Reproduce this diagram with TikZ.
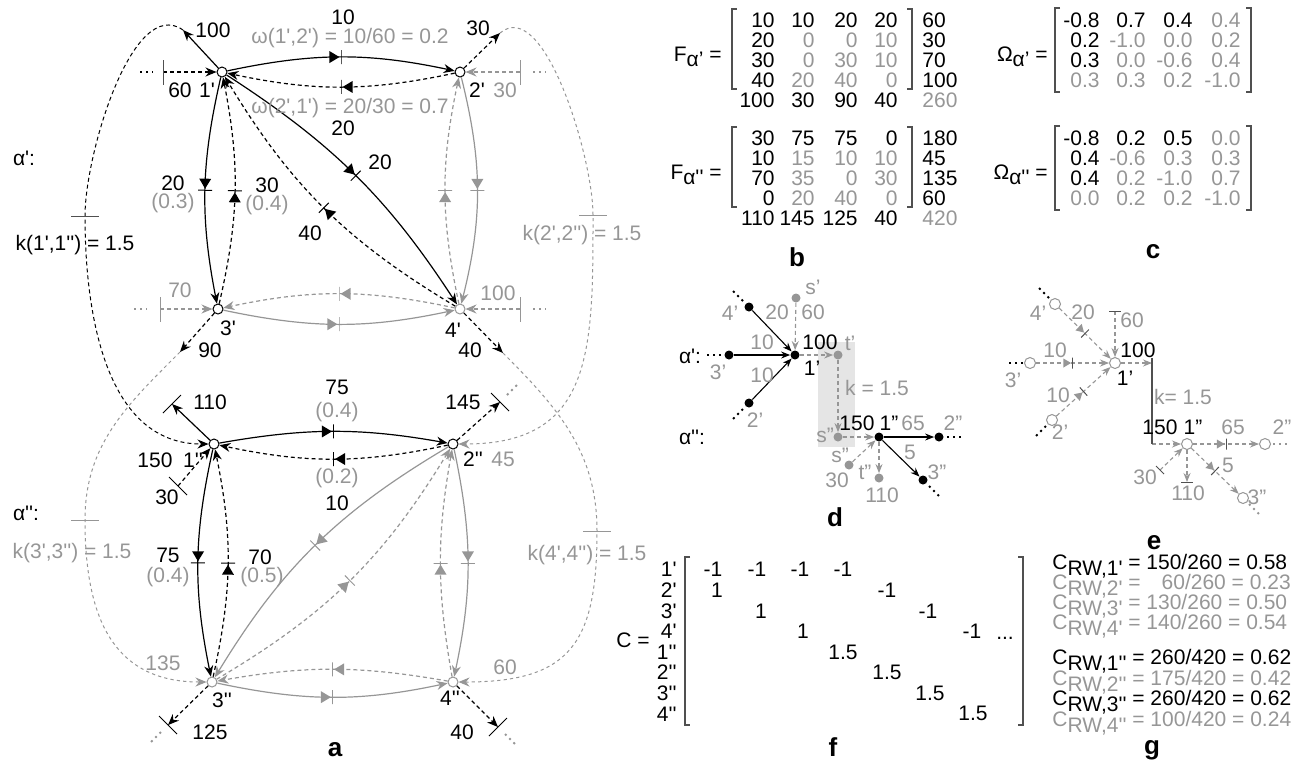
\documentclass[tikz,border=0pt]{standalone}
\usepackage{fontspec}
\setmainfont{Liberation Sans}[Ligatures=TeXOff]
\usetikzlibrary{arrows.meta,shapes.geometric}
\definecolor{lgray}{RGB}{150,150,150}
\definecolor{dgray}{RGB}{80,80,80}
\newcommand{\crw}[1]{C\raisebox{-3pt}{RW,#1}}
\tikzset{
  every node/.style={inner sep=1pt,font=\fontsize{10.5}{12}\selectfont},
  vtx/.style={circle,draw,fill=white,inner sep=0pt,minimum size=5pt,line width=0.5pt},
  gvtx/.style={vtx,draw=lgray},
  ovtx/.style={vtx,draw=lgray,minimum size=5.5pt},
  bdot/.style={circle,fill,inner sep=0pt,minimum size=4.5pt},
  gdot/.style={bdot,fill=lgray},
  fl/.style={line width=0.6pt,-{Stealth[length=5.5pt,width=4.5pt]}},
  sfl/.style={line width=0.55pt,-{Stealth[length=4.5pt,width=3.5pt]}},
  dsh/.style={dash pattern=on 2pt off 1.5pt},
  gdsh/.style={dash pattern=on 1.6pt off 1.6pt,line width=0.5pt},
  mh/.style={pos=0.5,sloped,allow upside down,isosceles triangle,isosceles triangle stretches,
    fill,draw=none,inner sep=0pt,minimum width=6pt,minimum height=5pt,anchor=apex},
  smh/.style={mh,minimum width=4.5pt,minimum height=3.8pt},
  mt/.style={pos=0.5,sloped,allow upside down,draw,solid,line width=0.5pt,rectangle,
    inner sep=0pt,minimum width=0pt,minimum height=7pt},
  smt/.style={mt,minimum height=5.5pt},
  etc/.style={line width=1pt,dash pattern=on 1pt off 2pt},
  brk/.style={dgray,line width=0.6pt},
  lbl/.style={font=\bfseries\fontsize{13}{15}\selectfont},
}
\begin{document}
\begin{tikzpicture}[x=0.5pt,y=0.5pt]
\useasboundingbox (0,0) rectangle (1311,-768);

% ---------- a ----------
\node[vtx] (v1p) at (222,-72) {};
\node[vtx] (v2p) at (460,-72) {};
\node[vtx] (v3p) at (218,-309) {};
\node[gvtx] (v4p) at (460,-309) {};
\node[vtx] (v1pp) at (214,-444) {};
\node[vtx] (v2pp) at (453,-444) {};
\node[gvtx] (v3pp) at (212,-682) {};
\node[gvtx] (v4pp) at (453,-682) {};

% layer alpha'
\draw[fl] (v1p) to[bend left=12] node[mh]{} node[mt]{} (v2p);
\draw[fl,dsh] (v2p) to[bend left=12] node[mh]{} node[mt]{} (v1p);
\draw[fl] (v1p) to[bend right=12] node[mh]{} node[mt]{} (v3p);
\draw[fl,dsh] (v3p) to[bend right=12] node[mh]{} node[mt]{} (v1p);
\draw[fl] (v1p) to[bend left=12] node[mh]{} node[mt]{} (v4p);
\draw[fl,dsh] (v4p) to[bend left=14] node[mh]{} node[mt]{} (v1p);
\draw[fl,lgray] (v2p) to[bend left=14] node[mh]{} node[mt]{} (v4p);
\draw[fl,lgray,dsh] (v4p) to[bend left=12] node[mh]{} node[mt]{} (v2p);
\draw[fl,lgray] (v3p) to[bend right=12] node[mh]{} node[mt]{} (v4p);
\draw[fl,lgray,dsh] (v4p) to[bend right=12] node[mh]{} node[mt]{} (v3p);

% layer alpha''
\draw[fl] (v1pp) to[bend left=10] node[mh]{} node[mt]{} (v2pp);
\draw[fl,dsh] (v2pp) to[bend left=12] node[mh]{} node[mt]{} (v1pp);
\draw[fl] (v1pp) to[bend right=12] node[mh]{} node[mt]{} (v3pp);
\draw[fl,dsh] (v3pp) to[bend right=12] node[mh]{} node[mt]{} (v1pp);
\draw[fl,lgray] (v2pp) to[bend right=14] node[mh]{} node[mt]{} (v3pp);
\draw[fl,lgray,dsh] (v3pp) to[bend right=14] node[mh]{} node[mt]{} (v2pp);
\draw[fl,lgray] (v2pp) to[bend left=12] node[mh]{} node[mt]{} (v4pp);
\draw[fl,lgray,dsh] (v4pp) to[bend left=10] node[mh]{} node[mt]{} (v2pp);
\draw[fl,lgray] (v3pp) to[bend right=12] node[mh]{} node[mt]{} (v4pp);
\draw[fl,lgray,dsh] (v4pp) to[bend right=10] node[mh]{} node[mt]{} (v3pp);

% sources and sinks
\coordinate (i1p) at (163,-72);
\coordinate (i2p) at (520,-72);
\coordinate (i3p) at (160,-309);
\coordinate (i4p) at (520,-309);
\coordinate (i1pp) at (178,-486);
\coordinate (o1p) at (183,-30);
\coordinate (o2p) at (500,-33);
\coordinate (o3p) at (180,-352);
\coordinate (o4p) at (503,-353);
\coordinate (o1pp) at (172,-404);
\coordinate (o2pp) at (500,-402);
\coordinate (o3pp) at (168,-725);
\coordinate (o4pp) at (498,-727);
\draw[fl,dsh] (i1p) -- (v1p);
\draw[fl,dsh,lgray] (i2p) -- (v2p);
\draw[fl,dsh,lgray] (i3p) -- (v3p);
\draw[fl,dsh,lgray] (i4p) -- (v4p);
\draw[fl,dsh] (i1pp) -- (v1pp);
\draw[dgray] (i1p) ++(0,12) -- ++(0,-25);
\draw[lgray] (i2p) ++(0,12) -- ++(0,-25);
\draw[lgray] (i3p) ++(0,12) -- ++(0,-25);
\draw[lgray] (i4p) ++(0,12) -- ++(0,-25);
\draw (i1pp) ++(9,-9) -- ++(-18,18);
\draw[etc] (i1p) ++(-23,0) -- ++(13,0);
\draw[etc,lgray] (i2p) ++(13,0) -- ++(13,0);
\draw[etc,lgray] (i3p) ++(-26,0) -- ++(13,0);
\draw[etc,lgray] (i4p) ++(13,0) -- ++(13,0);
\draw[fl] (v1p) -- (o1p);
\draw[fl,dsh] (v2p) -- (o2p);
\draw[fl,dsh] (v3p) -- (o3p);
\draw[fl,dsh] (v4p) -- (o4p);
\draw[fl] (v1pp) -- (o1pp);
\draw[fl,dsh] (v2pp) -- (o2pp);
\draw[fl,dsh] (v3pp) -- (o3pp);
\draw[fl,dsh] (v4pp) -- (o4pp);
\draw (o1pp) ++(9,9) -- ++(-18,-18);
\draw (o2pp) ++(9,-9) -- ++(-18,18);
\draw (o3pp) ++(9,-9) -- ++(-18,18);
\draw (o4pp) ++(9,9) -- ++(-18,-18);
\draw[etc,lgray] (o2pp) ++(7,7) -- ++(10,10);
\draw[etc,lgray] (o3pp) ++(-7,-7) -- ++(-10,-10);
\draw[etc,lgray] (o4pp) ++(7,-7) -- ++(10,-10);

% interlayer links
\coordinate (k1) at (85,-216);
\coordinate (k2) at (593,-215);
\coordinate (k3) at (85,-520);
\coordinate (k4) at (597,-531);
\draw[fl,dsh,line width=0.5pt] (o1p) to[out=145,in=90,looseness=0.75] (k1) to[out=-90,in=180] (v1pp);
\draw[fl,gdsh,lgray] (o2p) to[out=40,in=90,looseness=0.72] (k2) to[out=-90,in=0,looseness=1.3] (v2pp);
\draw[fl,gdsh,lgray] (o3p) to[out=225,in=90] (k3) to[out=-90,in=180,looseness=1.2] (v3pp);
\draw[fl,gdsh,lgray] (o4p) to[out=-45,in=90] (k4) to[out=-90,in=0,looseness=1.4] (v4pp);
\draw[dgray] (k1) ++(-14,0) -- ++(28,0);
\draw[lgray] (k2) ++(-14,0) -- ++(28,0);
\draw[lgray] (k3) ++(-14,0) -- ++(28,0);
\draw[lgray] (k4) ++(-14,0) -- ++(28,0);

% labels of a
\node (ta1) at (213,-30) {100};
\node (ta2) at (343,-17) {10};
\node (ta3) at (478,-28) {30};
\node (ta4) at (180,-90) {60};
\node (ta5) at (207,-90) {1'};
\node (ta6) at (477,-90) {2'};
\node (ta7) at (343,-128) {20};
\node (ta8) at (380,-162) {20};
\node (ta9) at (173,-183) {20};
\node (ta10) at (267,-185) {30};
\node (ta11) at (310,-233) {40};
\node (ta12) at (228,-328) {3'};
\node (ta13) at (453,-330) {4'};
\node (ta14) at (210,-350) {90};
\node (ta15) at (470,-350) {40};
\node (ta16) at (337,-387) {75};
\node (ta17) at (210,-402) {110};
\node (ta18) at (463,-402) {145};
\node (ta19) at (155,-460) {150};
\node (ta20) at (193,-460) {1''};
\node (ta21) at (473,-459) {2''};
\node (ta22) at (167,-497) {30};
\node (ta23) at (337,-503) {10};
\node (ta24) at (168,-555) {75};
\node (ta25) at (260,-557) {70};
\node (ta26) at (222,-700) {3''};
\node (ta27) at (450,-698) {4''};
\node (ta28) at (210,-732) {125};
\node (ta29) at (462,-732) {40};
\node (ta30) at (24,-158) {α':};
\node (ta31) at (26,-513) {α'':};
\node (ta32) at (75,-245) {k(1',1'') = 1.5};
\node[lgray] (tg1) at (350,-38) {ω(1',2') = 10/60 = 0.2};
\node[lgray] (tg2) at (350,-108) {ω(2',1') = 20/30 = 0.7};
\node[lgray] (tg3) at (505,-90) {30};
\node[lgray] (tg4) at (173,-203) {(0.3)};
\node[lgray] (tg5) at (267,-205) {(0.4)};
\node[lgray] (tg6) at (180,-290) {70};
\node[lgray] (tg7) at (498,-293) {100};
\node[lgray] (tg8) at (337,-412) {(0.4)};
\node[lgray] (tg9) at (503,-459) {45};
\node[lgray] (tg10) at (337,-478) {(0.2)};
\node[lgray] (tg11) at (168,-577) {(0.4)};
\node[lgray] (tg12) at (262,-577) {(0.5)};
\node[lgray] (tg13) at (163,-663) {135};
\node[lgray] (tg14) at (505,-667) {60};
\node[lgray] (tg15) at (72,-553) {k(3',3'') = 1.5};
\node[lgray] (tg16) at (582,-235) {k(2',2'') = 1.5};
\node[lgray] (tg17) at (587,-555) {k(4',4'') = 1.5};
\node[lbl] (pa) at (335,-750) {a};

% ---------- b ----------
\node[anchor=east] (fa) at (724,-57) {F\raisebox{-2.5pt}{α’} =};
\draw[brk] (737,-9) -- (732,-9) -- (732,-89) -- (737,-89);
\draw[brk] (907,-9) -- (912,-9) -- (912,-89) -- (907,-89);
\foreach \y/\a/\b/\c/\d/\s/\cb in {20/10/10/20/20/60/black,40/20/0/0/10/30/lgray,
    60/30/0/30/10/70/lgray,80/40/20/40/0/100/lgray}{
  \node[anchor=east] (fa-\y-1) at (777,-\y) {\a};
  \node[anchor=east,\cb] (fa-\y-2) at (817,-\y) {\b};
  \node[anchor=east,\cb] (fa-\y-3) at (860,-\y) {\c};
  \node[anchor=east,\cb] (fa-\y-4) at (900,-\y) {\d};
  \node[anchor=west] (fa-\y-5) at (920,-\y) {\s};
}
\foreach \x/\v [count=\i] in {777/100,817/30,860/90,900/40}
  \node[anchor=east] (fa-s\i) at (\x,-100) {\v};
\node[anchor=west,lgray] (fa-t) at (920,-100) {260};

\node[anchor=east] (fb) at (724,-175) {F\raisebox{-2.5pt}{α''} =};
\draw[brk] (737,-127) -- (732,-127) -- (732,-207) -- (737,-207);
\draw[brk] (907,-127) -- (912,-127) -- (912,-207) -- (907,-207);
\foreach \y/\a/\b/\c/\d/\s/\cb in {138/30/75/75/0/180/black,158/10/15/10/10/45/lgray,
    178/70/35/0/30/135/lgray,198/0/20/40/0/60/lgray}{
  \node[anchor=east] (fb-\y-1) at (777,-\y) {\a};
  \node[anchor=east,\cb] (fb-\y-2) at (817,-\y) {\b};
  \node[anchor=east,\cb] (fb-\y-3) at (860,-\y) {\c};
  \node[anchor=east,\cb] (fb-\y-4) at (900,-\y) {\d};
  \node[anchor=west] (fb-\y-5) at (920,-\y) {\s};
}
\foreach \x/\v [count=\i] in {777/110,817/145,860/125,900/40}
  \node[anchor=east] (fb-s\i) at (\x,-218) {\v};
\node[anchor=west,lgray] (fb-t) at (920,-218) {420};
\node[lbl] (pb) at (797,-257) {b};

% ---------- c ----------
\node[anchor=east] (wa) at (1050,-57) {Ω\raisebox{-2.5pt}{α’} =};
\draw[brk] (1060,-8) -- (1055,-8) -- (1055,-92) -- (1060,-92);
\draw[brk] (1246,-8) -- (1251,-8) -- (1251,-92) -- (1246,-92);
\foreach \y/\a/\b/\c/\d/\ca/\cb in {20/-0.8/0.7/0.4/0.4/black/black,40/0.2/-1.0/0.0/0.2/black/lgray,
    60/0.3/0.0/-0.6/0.4/black/lgray,80/0.3/0.3/0.2/-1.0/lgray/lgray}{
  \node[anchor=east,\ca] (wa-\y-1) at (1102,-\y) {\a};
  \node[anchor=east,\cb] (wa-\y-2) at (1148,-\y) {\b};
  \node[anchor=east,\cb] (wa-\y-3) at (1195,-\y) {\c};
  \node[anchor=east,lgray] (wa-\y-4) at (1243,-\y) {\d};
}
\node[anchor=east] (wb) at (1050,-175) {Ω\raisebox{-2.5pt}{α''} =};
\draw[brk] (1060,-126) -- (1055,-126) -- (1055,-210) -- (1060,-210);
\draw[brk] (1246,-126) -- (1251,-126) -- (1251,-210) -- (1246,-210);
\foreach \y/\a/\b/\c/\d/\ca/\cb in {138/-0.8/0.2/0.5/0.0/black/black,158/0.4/-0.6/0.3/0.3/black/lgray,
    178/0.4/0.2/-1.0/0.7/black/lgray,198/0.0/0.2/0.2/-1.0/lgray/lgray}{
  \node[anchor=east,\ca] (wb-\y-1) at (1102,-\y) {\a};
  \node[anchor=east,\cb] (wb-\y-2) at (1148,-\y) {\b};
  \node[anchor=east,\cb] (wb-\y-3) at (1195,-\y) {\c};
  \node[anchor=east,lgray] (wb-\y-4) at (1243,-\y) {\d};
}
\node[lbl] (pc) at (1153,-252) {c};

% ---------- d ----------
\fill[black!10] (818,-342) rectangle (855,-447);
\node[bdot] (d1p) at (795,-355) {};
\node[bdot] (d4p) at (749,-307) {};
\node[bdot] (d3p) at (729,-355) {};
\node[bdot] (d2p) at (749,-403) {};
\node[gdot] (dsp) at (796,-298) {};
\node[gdot] (dtp) at (838,-355) {};
\node[gdot] (dspp) at (838,-437) {};
\node[bdot] (d1pp) at (879,-437) {};
\node[bdot] (d2pp) at (939,-437) {};
\node[bdot] (d3pp) at (923,-480) {};
\node[gdot] (dsq) at (849,-465) {};
\node[gdot] (dtpp) at (879,-478) {};
\draw[sfl] (d4p) -- (d1p);
\draw[sfl] (d3p) -- (d1p);
\draw[sfl] (d2p) -- (d1p);
\draw[sfl,dsh,lgray] (dsp) -- (d1p);
\draw[sfl,dsh,lgray] (d1p) -- (dtp);
\draw[sfl,dsh,lgray] (dtp) -- (dspp);
\draw[sfl,dsh,lgray] (dspp) -- (d1pp);
\draw[sfl,dsh,lgray] (dsq) -- (d1pp);
\draw[sfl,dsh,lgray] (d1pp) -- (dtpp);
\draw[sfl] (d1pp) -- (d2pp);
\draw[sfl] (d1pp) -- (d3pp);
\draw[etc] (d4p) ++(-6,6) -- ++(-12,12);
\draw[etc] (d3p) ++(-8,0) -- ++(-14,0);
\draw[etc] (d2p) ++(-6,-6) -- ++(-12,-12);
\draw[etc] (d2pp) ++(8,0) -- ++(14,0);
\draw[etc] (d3pp) ++(6,-6) -- ++(10,-10);
\node (td1) at (690,-356) {α':};
\node (td2) at (692,-437) {α'':};
\node (td3) at (820,-342) {100};
\node (td4) at (812,-368) {1’};
\node (td5) at (857,-423) {150};
\node (td6) at (889,-423) {1”};
\node[lgray] (tdg1) at (813,-287) {s’};
\node[lgray] (tdg2) at (777,-312) {20};
\node[lgray] (tdg3) at (813,-312) {60};
\node[lgray] (tdg4) at (730,-313) {4’};
\node[lgray] (tdg5) at (762,-342) {10};
\node[lgray] (tdg6) at (850,-343) {t’};
\node[lgray] (tdg7) at (718,-372) {3’};
\node[lgray] (tdg8) at (762,-375) {10};
\node[lgray] (tdg9) at (877,-388) {k = 1.5};
\node[lgray] (tdg10) at (755,-420) {2’};
\node[lgray] (tdg11) at (825,-435) {s”};
\node[lgray] (tdg12) at (913,-423) {65};
\node[lgray] (tdg13) at (953,-423) {2”};
\node[lgray] (tdg14) at (910,-452) {5};
\node[lgray] (tdg15) at (840,-455) {s”};
\node[lgray] (tdg16) at (865,-472) {t”};
\node[lgray] (tdg17) at (937,-472) {3”};
\node[lgray] (tdg18) at (837,-480) {30};
\node[lgray] (tdg19) at (882,-495) {110};
\node[lbl] (pd) at (835,-517) {d};

% ---------- e ----------
\node[ovtx] (e1p) at (1115,-363) {};
\node[ovtx] (e4p) at (1055,-304) {};
\node[ovtx] (e3p) at (1030,-363) {};
\node[ovtx] (e2p) at (1052,-420) {};
\node[ovtx] (e1pp) at (1187,-444) {};
\node[ovtx] (e2pp) at (1265,-444) {};
\node[ovtx] (e3pp) at (1243,-498) {};
\coordinate (e60) at (1115,-311);
\coordinate (ek1) at (1152,-363);
\coordinate (ek2) at (1152,-444);
\coordinate (e30) at (1160,-470);
\coordinate (e110) at (1187,-482);
\draw[sfl,dsh,lgray] (e4p) -- node[smh]{} node[smt,dgray]{} (e1p);
\draw[sfl,dsh,lgray] (e3p) -- node[smh]{} node[smt,dgray]{} (e1p);
\draw[sfl,dsh,lgray] (e2p) -- node[smh]{} node[smt,dgray]{} (e1p);
\draw[sfl,dsh,lgray] (e60) -- (e1p);
\draw[sfl,dsh,lgray] (e1p) -- (ek1);
\draw[sfl,dsh,lgray] (ek2) -- (e1pp);
\draw[sfl,dsh,lgray] (e30) -- (e1pp);
\draw[sfl,dsh,lgray] (e1pp) -- (e110);
\draw[sfl,dsh,lgray] (e1pp) -- node[smh]{} node[smt,dgray]{} (e2pp);
\draw[sfl,dsh,lgray] (e1pp) -- node[smh]{} node[smt,dgray]{} (e3pp);
\draw[dgray,line width=0.6pt] (ek1) ++(0,5) -- (ek2);
\draw[dgray] (e60) ++(-6,0) -- ++(12,0);
\draw[dgray] (e110) ++(-6,0) -- ++(12,0);
\draw[dgray] (e30) ++(-4,4) -- ++(8,-8);
\draw[etc] (e4p) ++(-6,6) -- ++(-12,12);
\draw[etc] (e3p) ++(-7,0) -- ++(-14,0);
\draw[etc] (e2p) ++(-6,-6) -- ++(-12,-12);
\draw[etc,lgray] (e2pp) ++(8,0) -- ++(14,0);
\draw[etc,lgray] (e3pp) ++(6,-6) -- ++(10,-10);
\node (te1) at (1138,-350) {100};
\node (te2) at (1125,-378) {1’};
\node (te3) at (1160,-427) {150};
\node (te4) at (1193,-427) {1”};
\node[lgray] (teg1) at (1038,-313) {4’};
\node[lgray] (teg2) at (1083,-312) {20};
\node[lgray] (teg3) at (1132,-320) {60};
\node[lgray] (teg4) at (1055,-350) {10};
\node[lgray] (teg5) at (1013,-380) {3’};
\node[lgray] (teg6) at (1058,-395) {10};
\node[lgray] (teg7) at (1060,-432) {2’};
\node[lgray] (teg8) at (1183,-397) {k= 1.5};
\node[lgray] (teg9) at (1233,-427) {65};
\node[lgray] (teg10) at (1282,-427) {2”};
\node[lgray] (teg11) at (1145,-477) {30};
\node[lgray] (teg12) at (1228,-465) {5};
\node[lgray] (teg13) at (1188,-493) {110};
\node[lgray] (teg14) at (1257,-497) {3”};
\node[lbl] (pe) at (1154,-543) {e};

% ---------- f ----------
\node (cl) at (633,-640) {C =};
\foreach \t [count=\i] in {1',2',3',4',1'',2'',3'',4''}
  \node[anchor=east] (cr\i) at (679,{-549-20.6*\i}) {\t};
\draw[brk] (690,-557) -- (685,-557) -- (685,-725) -- (690,-725);
\draw[brk] (1018,-557) -- (1023,-557) -- (1023,-725) -- (1018,-725);
\foreach \r/\x/\v in {1/713/-1,1/757/-1,1/800/-1,1/843/-1,2/717/1,2/887/-1,3/761/1,3/928/-1,
    4/803/1,4/972/-1,5/843/1.5,6/887/1.5,7/930/1.5,8/973/1.5}
  \node (ce-\r-\x) at (\x,{-549-20.6*\r}) {\v};
\node (cdots) at (1005,-638) {...};
\node[lbl] (pf) at (833,-747) {f};

% ---------- g ----------
\node[anchor=west] (g1) at (1050,-566) {\crw{1'} = 150/260 = 0.58};
\node[anchor=west,lgray] (g2) at (1050,-586) {\crw{2'} = \phantom{1}\,60/260 = 0.23};
\node[anchor=west,lgray] (g3) at (1050,-606) {\crw{3'} = 130/260 = 0.50};
\node[anchor=west,lgray] (g4) at (1050,-626) {\crw{4'} = 140/260 = 0.54};
\node[anchor=west] (g5) at (1050,-661) {\crw{1''} = 260/420 = 0.62};
\node[anchor=west,lgray] (g6) at (1050,-682) {\crw{2''} = 175/420 = 0.42};
\node[anchor=west] (g7) at (1050,-702) {\crw{3''} = 260/420 = 0.62};
\node[anchor=west,lgray] (g8) at (1050,-723) {\crw{4''} = 100/420 = 0.24};
\node[lbl] (pg) at (1152,-750) {g};
\end{tikzpicture}
\end{document}
